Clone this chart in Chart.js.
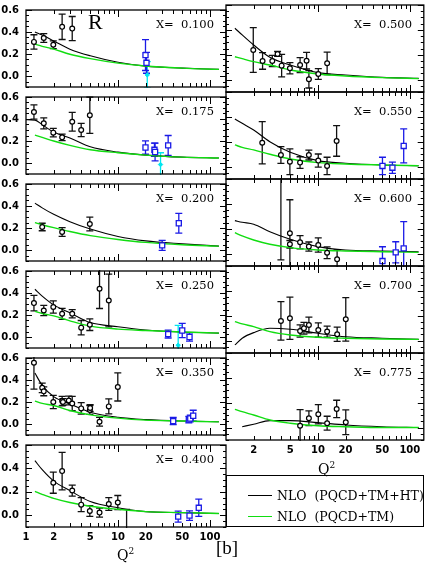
<!DOCTYPE html>
<html>
<head>
<meta charset="utf-8">
<script src="https://cdn.jsdelivr.net/npm/chart.js@4.4.1/dist/chart.umd.min.js"></script>
<style>
  html, body { margin: 0; padding: 0; background: #fff; }
  #page { position: relative; width: 429px; height: 568px; overflow: hidden; background: #fff; }
  #page canvas { position: absolute; }
  .txt { position: absolute; font-family: 'DejaVu Serif', serif; color: #000; white-space: pre; line-height: 14px; }
  .xlab { font-size: 11.5px; text-align: right; }
  .q2 { font-size: 14px; }
  .q2 sup { font-size: 9px; }
  #legend { position: absolute; left: 226px; top: 475px; width: 198px; height: 52px; box-sizing: border-box; border: 1.2px solid #000; }
  .lline { position: absolute; width: 24px; height: 0; }
</style>
</head>
<body>
<div id="page"></div>
<script>
// ============================================================
// R(x, Q2) panels — data points and NLO curves
// ============================================================

// Q2 grid for the theory curves (same for every panel)
const CURVE_Q2 = [1.0, 1.25, 1.5, 2, 3, 5, 10, 20, 50, 125];

// NLO (PQCD+TM+HT) = ht*, NLO (PQCD+TM) = tm*
const ht100 = [null, 0.40, 0.372, 0.319, 0.244, 0.184, 0.125, 0.09, 0.072, 0.06];
const tm100 = [null, 0.29, 0.27, 0.244, 0.198, 0.158, 0.117, 0.091, 0.072, 0.06];
const ht175 = [0.393, 0.39, 0.348, 0.281, 0.228, 0.147, 0.099, 0.072, 0.053, 0.045];
const tm175 = [null, 0.254, 0.233, 0.2, 0.16, 0.12, 0.093, 0.072, 0.053, 0.045];
const ht200 = [null, 0.426, 0.383, 0.324, 0.257, 0.19, 0.123, 0.083, 0.056, 0.035];
const tm200 = [null, 0.249, 0.23, 0.203, 0.168, 0.131, 0.096, 0.069, 0.048, 0.035];
const ht250 = [null, 0.434, 0.372, 0.292, 0.22, 0.131, 0.093, 0.064, 0.045, 0.035];
const tm250 = [null, 0.233, 0.214, 0.192, 0.147, 0.099, 0.072, 0.059, 0.045, 0.035];
const ht350 = [null, 0.463, 0.351, 0.249, 0.182, 0.107, 0.061, 0.04, 0.027, 0.021];
const tm350 = [null, 0.208, 0.187, 0.168, 0.123, 0.083, 0.053, 0.035, 0.027, 0.019];
const ht400 = [null, 0.466, 0.389, 0.292, 0.211, 0.117, 0.064, 0.031, 0.023, 0.015];
const tm400 = [null, 0.204, 0.179, 0.144, 0.109, 0.077, 0.051, 0.031, 0.023, 0.015];
const ht500 = [null, 0.413, 0.359, 0.278, 0.179, 0.117, 0.056, 0.037, 0.018, 0.01];
const tm500 = [null, 0.184, 0.168, 0.144, 0.117, 0.077, 0.045, 0.029, 0.016, 0.008];
const ht550 = [null, 0.383, 0.348, 0.294, 0.2, 0.115, 0.048, 0.027, 0.013, 0.007];
const tm550 = [null, 0.174, 0.155, 0.134, 0.099, 0.061, 0.032, 0.021, 0.013, 0.007];
const ht600 = [null, 0.265, 0.252, 0.236, 0.176, 0.115, 0.056, 0.029, 0.021, 0.015];
const tm600 = [null, 0.168, 0.142, 0.109, 0.075, 0.048, 0.029, 0.021, 0.015, 0.01];
const ht700 = [null, -0.035, 0.019, 0.064, 0.099, 0.091, 0.059, 0.031, 0.019, 0.01];
const tm700 = [null, 0.152, 0.134, 0.112, 0.072, 0.045, 0.027, 0.019, 0.013, 0.01];
const ht775 = [null, null, 0.007, 0.027, 0.056, 0.056, 0.04, 0.021, 0.007, 0.0];
const tm775 = [null, 0.147, 0.128, 0.101, 0.061, 0.035, 0.015, 0.007, 0.0, 0.0];

// measurements: [Q2, R, error]   d* = black circles, b* = blue squares, c* = cyan
const d100 = [[1.22, 0.31, 0.065], [1.56, 0.345, 0.04], [1.98, 0.284, 0.035], [2.47, 0.447, 0.115], [3.18, 0.431, 0.11]];
const b100 = [[19.9, 0.19, 0.14], [20.4, 0.12, 0.095]];
const c100 = [[20.8, 0.01, 0.12]];

const d175 = [[1.22, 0.463, 0.065], [1.56, 0.361, 0.05], [1.98, 0.276, 0.038], [2.47, 0.233, 0.03], [3.18, 0.375, 0.085], [3.98, 0.3, 0.06], [4.94, 0.434, 0.165]];
const b175 = [[19.9, 0.141, 0.06], [24.9, 0.12, 0.06], [25.3, 0.1, 0.08], [35.1, 0.16, 0.09]];
const c175 = [[29, -0.014, 0.107]];

const d200 = [[1.5, 0.209, 0.034], [2.47, 0.163, 0.04], [4.94, 0.236, 0.063]];
const b200 = [[30.2, 0.042, 0.046], [45.8, 0.243, 0.09]];

const d250 = [[1.22, 0.308, 0.07], [1.56, 0.241, 0.047], [1.98, 0.273, 0.056], [2.47, 0.211, 0.05], [3.18, 0.211, 0.037], [3.98, 0.085, 0.065], [4.94, 0.112, 0.053], [6.3, 0.439, 0.18], [7.94, 0.332, 0.24]];
const b250 = [[35.1, 0.027, 0.036], [49.9, 0.059, 0.064], [59.9, 0.0, 0.038]];
const c250 = [[45.1, -0.075, 0.18]];

const d350 = [[1.22, 0.557, 0.24], [1.5, 0.329, 0.043], [1.56, 0.297, 0.04], [1.98, 0.2, 0.06], [2.47, 0.208, 0.043], [2.52, 0.2, 0.03], [2.92, 0.214, 0.04], [3.18, 0.187, 0.065], [3.98, 0.142, 0.053], [4.94, 0.128, 0.04], [4.98, 0.145, 0.03], [6.3, 0.021, 0.04], [7.94, 0.16, 0.068], [9.95, 0.337, 0.128]];
const b350 = [[39.8, 0.027, 0.032], [58.9, 0.04, 0.03], [61, 0.05, 0.03], [65.7, 0.075, 0.05]];

const d400 = [[1.98, 0.278, 0.09], [2.47, 0.377, 0.16], [3.18, 0.211, 0.047], [3.98, 0.091, 0.06], [4.94, 0.037, 0.046], [6.3, 0.023, 0.038], [7.94, 0.096, 0.054], [9.95, 0.109, 0.06], [12.4, -0.2, 0.25]];
const b400 = [[45.1, -0.011, 0.047], [59.9, -0.003, 0.04], [75.5, 0.064, 0.074]];

const d500 = [[1.98, 0.238, 0.18], [2.5, 0.15, 0.067], [3.19, 0.15, 0.045], [3.64, 0.206, 0.02], [4.03, 0.112, 0.09], [4.96, 0.091, 0.045], [6.4, 0.117, 0.06], [7.53, 0.152, 0.067], [7.98, 0.002, 0.07], [10.1, 0.045, 0.043], [12.6, 0.131, 0.09]];

const d550 = [[2.48, 0.192, 0.17], [3.96, 0.093, 0.067], [4.96, 0.039, 0.103], [6.4, 0.032, 0.047], [7.98, 0.093, 0.04], [10.1, 0.048, 0.053], [12.6, 0.005, 0.07], [16, 0.206, 0.123]];
const b550 = [[50.5, 0.005, 0.07], [64.8, -0.009, 0.045], [86, 0.166, 0.137]];

const d600 = [[3.96, 0.75, 0.8], [4.96, 0.163, 0.27], [4.96, 0.075, 0.03], [6.4, 0.091, 0.053], [7.98, 0.056, 0.037], [10.1, 0.069, 0.058], [12.6, 0.007, 0.047], [16.2, -0.046, 0.075]];
const b600 = [[50.5, -0.06, 0.115], [70.4, 0.01, 0.085], [86, 0.042, 0.215]];

const d700 = [[3.96, 0.158, 0.155], [4.96, 0.179, 0.17], [6.4, 0.077, 0.05], [7.05, 0.099, 0.047], [7.98, 0.125, 0.063], [10.1, 0.085, 0.058], [12.6, 0.072, 0.045], [16.2, 0.051, 0.057], [20.1, 0.171, 0.175]];

const d775 = [[6.4, 0.015, 0.13], [7.98, 0.075, 0.06], [10.1, 0.107, 0.077], [12.6, 0.035, 0.056], [16, 0.15, 0.07], [20.1, 0.043, 0.1]];

// tick labels
const Y_TICKS = [0, 0.2, 0.4, 0.6];
const X_TICKS_LEFT = [1, 2, 5, 10, 20, 50, 100];
const X_TICKS_RIGHT = [2, 5, 10, 20, 50, 100];

const PANELS = [
  { col: 0, row: 0, label: '0.100', pts: d100, blue: b100, cyan: c100, ht: ht100, tm: tm100 },
  { col: 0, row: 1, label: '0.175', pts: d175, blue: b175, cyan: c175, ht: ht175, tm: tm175 },
  { col: 0, row: 2, label: '0.200', pts: d200, blue: b200, cyan: [], ht: ht200, tm: tm200 },
  { col: 0, row: 3, label: '0.250', pts: d250, blue: b250, cyan: c250, ht: ht250, tm: tm250 },
  { col: 0, row: 4, label: '0.350', pts: d350, blue: b350, cyan: [], ht: ht350, tm: tm350 },
  { col: 0, row: 5, label: '0.400', pts: d400, blue: b400, cyan: [], ht: ht400, tm: tm400, xTicks: X_TICKS_LEFT },
  { col: 1, row: 0, label: '0.500', pts: d500, blue: [], cyan: [], ht: ht500, tm: tm500 },
  { col: 1, row: 1, label: '0.550', pts: d550, blue: b550, cyan: [], ht: ht550, tm: tm550 },
  { col: 1, row: 2, label: '0.600', pts: d600, blue: b600, cyan: [], ht: ht600, tm: tm600 },
  { col: 1, row: 3, label: '0.700', pts: d700, blue: [], cyan: [], ht: ht700, tm: tm700 },
  { col: 1, row: 4, label: '0.775', pts: d775, blue: [], cyan: [], ht: ht775, tm: tm775, xTicks: X_TICKS_RIGHT },
];

// --- layout ---
const TOP = 5, PH = 87, PAD = 8, XAXIS_H = 20, DECADE = 92;
const COLS = [
  { canvasLeft: 0, width: 232, plotLeft: 26, plotRight: 226, padL: 0, padR: 6, yLabels: true },
  { canvasLeft: 220, width: 209, plotLeft: 226, plotRight: 424, padL: 6, padR: 5, yLabels: false },
];

const COLORS = { ht: '#000000', tm: '#11dd11', pts: '#000000', blue: '#1a1ae6', cyan: '#00e6f0' };

// --- plugins ---
const errorBars = {
  id: 'errorBars',
  beforeDatasetsDraw(chart) {
    const { ctx, chartArea: a, scales: { y } } = chart;
    ctx.save();
    ctx.beginPath();
    ctx.rect(a.left, a.top - 1, a.right - a.left, a.bottom - a.top + 2);
    ctx.clip();
    chart.data.datasets.forEach((ds, i) => {
      if (!ds.errs) return;
      const meta = chart.getDatasetMeta(i);
      ctx.strokeStyle = ds.barColor;
      ctx.lineWidth = 1.3;
      meta.data.forEach((pt, j) => {
        const v = ds.data[j].y, e = ds.errs[j];
        const y1 = y.getPixelForValue(v + e), y2 = y.getPixelForValue(v - e);
        const px = pt.x;
        ctx.beginPath();
        ctx.moveTo(px, y1); ctx.lineTo(px, y2);
        ctx.moveTo(px - 3.5, y1); ctx.lineTo(px + 3.5, y1);
        ctx.moveTo(px - 3.5, y2); ctx.lineTo(px + 3.5, y2);
        ctx.stroke();
      });
    });
    ctx.restore();
  }
};

const frameTicks = {
  id: 'frameTicks',
  afterDatasetsDraw(chart) {
    const { ctx, chartArea: a, scales: { x, y } } = chart;
    ctx.save();
    ctx.strokeStyle = '#000';
    ctx.lineWidth = 1;
    ctx.beginPath();
    for (let k = -2; k <= 12; k++) {
      const py = Math.round(y.getPixelForValue(k * 0.05)) + 0.5;
      const len = k % 4 === 0 ? 6 : 3;
      ctx.moveTo(a.left, py); ctx.lineTo(a.left + len, py);
      ctx.moveTo(a.right, py); ctx.lineTo(a.right - len, py);
    }
    for (let d = 1; d <= 100; d *= 10) {
      for (let m = 1; m <= 9; m++) {
        const v = m * d;
        if (v <= x.min || v >= x.max) continue;
        const px = Math.round(x.getPixelForValue(v)) + 0.5;
        const len = m === 1 ? 7 : 4;
        ctx.moveTo(px, a.top); ctx.lineTo(px, a.top + len);
        ctx.moveTo(px, a.bottom); ctx.lineTo(px, a.bottom - len);
      }
    }
    ctx.stroke();
    ctx.lineWidth = 1.3;
    ctx.strokeRect(a.left, a.top, a.right - a.left, a.bottom - a.top);
    ctx.restore();
  }
};

const tickFont = { family: 'DejaVu Sans', size: 10, weight: 'bold' };
const xy = (arr) => arr.map(p => ({ x: p[0], y: p[1] }));
const curve = (vals) => CURVE_Q2.map((q, i) => ({ x: q, y: vals[i] })).filter(p => p.y !== null);

const page = document.getElementById('page');

function addText(cls, html, style) {
  const el = document.createElement('div');
  el.className = 'txt ' + cls;
  el.innerHTML = html;
  Object.assign(el.style, style);
  page.appendChild(el);
  return el;
}

function renderPanel(p) {
  const c = COLS[p.col];
  const top = TOP + p.row * PH;
  const hasX = !!p.xTicks;
  const height = PAD + PH + (hasX ? XAXIS_H : PAD);
  const canvas = document.createElement('canvas');
  canvas.width = c.width;
  canvas.height = height;
  canvas.style.left = c.canvasLeft + 'px';
  canvas.style.top = (top - PAD) + 'px';
  page.appendChild(canvas);

  const xMax = Math.pow(10, (c.plotRight - c.plotLeft) / DECADE);

  new Chart(canvas, {
    type: 'scatter',
    data: {
      datasets: [
        {
          data: xy(p.cyan), errs: p.cyan.map(v => v[2]), barColor: COLORS.cyan,
          pointStyle: 'rectRot', pointRadius: 2.2, backgroundColor: COLORS.cyan, borderColor: COLORS.cyan, borderWidth: 1,
        },
        {
          data: xy(p.blue), errs: p.blue.map(v => v[2]), barColor: COLORS.blue,
          pointStyle: 'rect', pointRadius: 3.6, backgroundColor: '#fff', borderColor: COLORS.blue, borderWidth: 1.3,
        },
        {
          data: xy(p.pts), errs: p.pts.map(v => v[2]), barColor: '#111',
          pointStyle: 'circle', pointRadius: 2.4, backgroundColor: '#fff', borderColor: COLORS.pts, borderWidth: 1.2,
        },
        {
          data: curve(p.tm), showLine: true, pointRadius: 0, borderColor: COLORS.tm, borderWidth: 1.4,
          cubicInterpolationMode: 'monotone',
        },
        {
          data: curve(p.ht), showLine: true, pointRadius: 0, borderColor: COLORS.ht, borderWidth: 1.1,
          cubicInterpolationMode: 'monotone',
        },
      ]
    },
    options: {
      responsive: false,
      animation: false,
      events: [],
      devicePixelRatio: 1,
      layout: { padding: { left: c.padL, right: c.padR, top: PAD, bottom: hasX ? 0 : PAD } },
      plugins: { legend: { display: false }, tooltip: { enabled: false } },
      scales: {
        x: {
          type: 'logarithmic',
          min: 1,
          max: xMax,
          display: hasX,
          grid: { display: false, drawTicks: false },
          border: { display: false },
          afterBuildTicks: (s) => { s.ticks = (p.xTicks || []).map(v => ({ value: v })); },
          afterFit: (s) => { s.height = hasX ? XAXIS_H : 0; },
          ticks: {
            autoSkip: false, maxRotation: 0, padding: 4, color: '#000', font: tickFont,
            callback: (v) => String(v),
          },
        },
        y: {
          min: -0.1,
          max: 0.6,
          display: c.yLabels,
          grid: { display: false, drawTicks: false },
          border: { display: false },
          afterBuildTicks: (s) => { s.ticks = Y_TICKS.map(v => ({ value: v })); },
          afterFit: (s) => { s.width = c.yLabels ? c.plotLeft - c.padL : 0; },
          ticks: { padding: 7, color: '#000', font: tickFont, callback: (v) => v.toFixed(1) },
        }
      }
    },
    plugins: [errorBars, frameTicks]
  });

  addText('xlab', 'X=  ' + p.label, { right: (429 - c.plotRight + 12) + 'px', top: (top + 12) + 'px' });
}

PANELS.forEach(renderPanel);

// panel tag, axis titles, figure tag
addText('', 'R', { left: '88px', top: '10px', fontFamily: "'Liberation Serif', serif", fontSize: '22px', lineHeight: '24px' });
addText('q2', 'Q<sup>2</sup>', { left: '117px', top: '544px' });
addText('q2', 'Q<sup>2</sup>', { left: '318px', top: '458px' });
addText('', '[b]', { left: '216px', top: '537px', fontFamily: "'Liberation Serif', serif", fontSize: '19px', lineHeight: '22px' });

// legend box
const legend = document.createElement('div');
legend.id = 'legend';
page.appendChild(legend);
[['NLO  (PQCD+TM+HT)', COLORS.ht, 496], ['NLO  (PQCD+TM)', COLORS.tm, 517]].forEach(([name, color, cy]) => {
  const line = document.createElement('div');
  line.className = 'lline';
  line.style.left = '248px';
  line.style.top = (cy - 1) + 'px';
  line.style.borderTop = '1.4px solid ' + color;
  page.appendChild(line);
  addText('', name, { left: '277px', top: (cy - 8) + 'px', fontSize: '12.5px', lineHeight: '16px' });
});
</script>
</body>
</html>
